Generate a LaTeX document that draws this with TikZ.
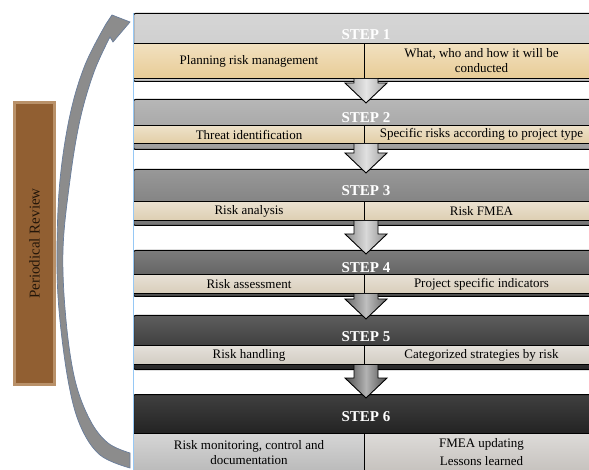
\documentclass[tikz,border=0pt]{standalone}
\usepackage{fontspec}
\setmainfont{Liberation Serif}
\usetikzlibrary{calc}
\usetikzlibrary{positioning}

\definecolor{headA}{RGB}{200,200,200}
\definecolor{headB}{RGB}{158,158,158}
\definecolor{headC}{RGB}{118,118,118}
\definecolor{headD}{RGB}{80,80,80}
\definecolor{headE}{RGB}{40,40,40}
\definecolor{headF}{RGB}{0,0,0}
\definecolor{cellA}{RGB}{232,204,150}
\definecolor{cellB}{RGB}{226,206,166}
\definecolor{cellC}{RGB}{221,206,178}
\definecolor{cellD}{RGB}{216,205,186}
\definecolor{cellE}{RGB}{210,204,194}
\definecolor{cellF}{RGB}{186,186,186}
\definecolor{cellG}{RGB}{198,194,190}
\definecolor{reviewBrown}{RGB}{145,95,50}
\definecolor{reviewEdge}{RGB}{185,145,105}
\definecolor{curveFill}{RGB}{140,140,140}
\definecolor{curveEdge}{RGB}{105,125,155}
\definecolor{guideBlue}{RGB}{150,200,245}

\begin{document}
\begin{tikzpicture}[x=1pt,y=-1pt,
  stephead/.style = {draw=black, line width=1pt, rounded corners=2pt, anchor=north west,
                     minimum width=465pt, inner sep=0pt, top color=#1!75!white, bottom color=#1},
  stepcell/.style = {draw=black, line width=1pt, anchor=north west, inner sep=1pt, align=center,
                     font=\fontsize{13}{15}\selectfont, top color=#1!60!white, bottom color=#1},
  steptitle/.style = {text=white, font=\bfseries\fontsize{15}{16}\selectfont, inner sep=0pt},
  steparrow/.style = {draw=black, line width=0.9pt},
  reviewbox/.style = {draw=reviewEdge, line width=3pt, fill=reviewBrown, rotate=90, inner sep=0pt,
                      minimum width=282pt, minimum height=40pt, text={rgb,255:red,35;green,22;blue,10},
                      font=\fontsize{15}{17}\selectfont},
  reviewarrow/.style = {draw=curveEdge, line width=0.7pt, fill=curveFill}
  ]
	\useasboundingbox (0,0) rectangle (589,470);
	\clip (0,0) rectangle (589,470);

	% review loop
	\node[reviewbox] (review) at (34.5,243.5) {Periodical Review};
	\draw[reviewarrow] plot[smooth, tension=0.6] coordinates {(130,468) (100,455) (80,425) (68,380) (59,310) (57,250) (60,180) (70,115) (85,65) (106,24)}
		-- (112,15) -- (130,22) -- (113,42) -- (110,37)
		-- plot[smooth, tension=0.6] coordinates {(110,37) (94,72) (80,120) (70,180) (63,250) (66,320) (75,380) (90,420) (108,443) (130,453)} -- cycle;

	% steps
	\node[stephead=headA, minimum height=68pt] (hdr1) at (133,13) {};
	\node[stephead=headB, minimum height=50pt] (hdr2) at (133,99) {};
	\node[stephead=headC, minimum height=56pt] (hdr3) at (133,169) {};
	\node[stephead=headD, minimum height=46pt] (hdr4) at (133,250) {};
	\node[stephead=headE, minimum height=54pt] (hdr5) at (133,315) {};
	\node[stephead=headF, minimum height=86pt] (hdr6) at (133,394) {};

	\node[steptitle] (ttl1) at ($(hdr1.north)+(0,22)$) {STEP 1};
	\node[steptitle] (ttl2) at ($(hdr2.north)+(0,19)$) {STEP 2};
	\node[steptitle] (ttl3) at ($(hdr3.north)+(0,22)$) {STEP 3};
	\node[steptitle] (ttl4) at ($(hdr4.north)+(0,18)$) {STEP 4};
	\node[steptitle] (ttl5) at ($(hdr5.north)+(0,22)$) {STEP 5};
	\node[steptitle] (ttl6) at ($(hdr6.north)+(0,23)$) {STEP 6};

	\node[stepcell=cellA, minimum width=231pt, minimum height=35pt] (s1l) at (133,43) {Planning risk management};
	\node[stepcell=cellA, minimum width=234pt, minimum height=35pt] (s1r) at (364,43) {What, who and how it will be\\conducted};
	\node[stepcell=cellB, minimum width=231pt, minimum height=18pt] (s2l) at (133,125) {Threat identification};
	\node[stepcell=cellB, minimum width=234pt, minimum height=18pt] (s2r) at (364,125) {Specific risks according to project type};
	\node[stepcell=cellC, minimum width=231pt, minimum height=19pt] (s3l) at (133,201) {Risk analysis};
	\node[stepcell=cellC, minimum width=234pt, minimum height=19pt] (s3r) at (364,201) {Risk FMEA};
	\node[stepcell=cellD, minimum width=231pt, minimum height=19pt] (s4l) at (133,274) {Risk assessment};
	\node[stepcell=cellD, minimum width=234pt, minimum height=19pt] (s4r) at (364,274) {Project specific indicators};
	\node[stepcell=cellE, minimum width=231pt, minimum height=19pt] (s5l) at (133,345) {Risk handling};
	\node[stepcell=cellE, minimum width=234pt, minimum height=19pt] (s5r) at (364,345) {Categorized strategies by risk};
	\node[stepcell=cellF, minimum width=231pt, minimum height=38pt] (s6l) at (133,433) {Risk monitoring, control and\\documentation};
	\node[stepcell=cellG, minimum width=234pt, minimum height=38pt] (s6r) at (364,433) {FMEA updating\\[3pt]Lessons learned};

	% arrows between steps
	\foreach \i/\j/\c/\m in {1/2/35/10, 2/3/38/12, 3/4/45/15, 4/5/60/25, 5/6/70/30}
		\draw[steparrow, left color=black!\c, right color=black!\c, middle color=black!\m]
			let \p1=(s\i l.south east), \p2=(hdr\j.north) in
			(\x2-12pt,\y1) -- (\x2-12pt,\y2+16pt) -- (\x2-21pt,\y2+16pt) -- (\x2,\y2-4pt)
			-- (\x2+21pt,\y2+16pt) -- (\x2+12pt,\y2+16pt) -- (\x2+12pt,\y1);

	\draw[guideBlue, line width=0.8pt] (hdr1.north west) -- (hdr1.north west |- 0,470);

\end{tikzpicture}
\end{document}
